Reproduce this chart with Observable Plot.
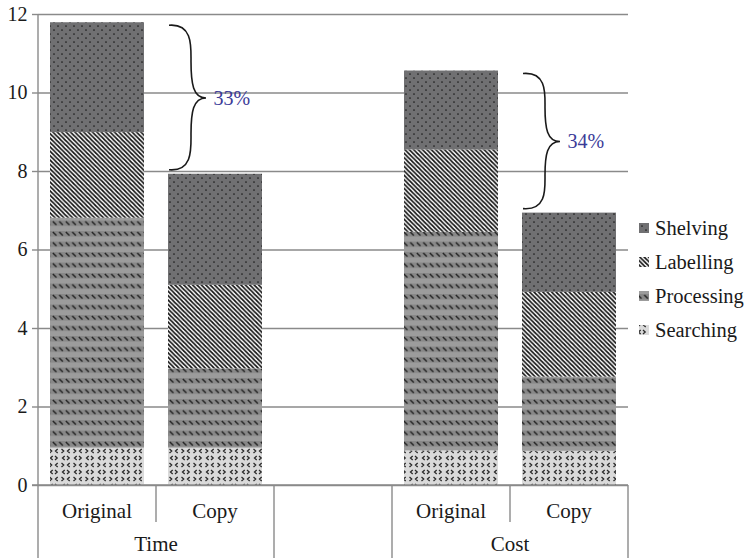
<!DOCTYPE html>
<html>
<head>
<meta charset="utf-8">
<script src="https://cdn.jsdelivr.net/npm/d3@7"></script>
<script src="https://cdn.jsdelivr.net/npm/@observablehq/plot@0.6"></script>
<style>
  body { margin: 0; background: #fff; }
  #chart svg { display: block; }
</style>
</head>
<body>
<div id="chart"></div>
<script>
// ---- data ----
const slots = ["Time|Original", "Time|Copy", "gap", "Cost|Original", "Cost|Copy"];
const slotLabels = ["Original", "Copy", "", "Original", "Copy"];
const groupNames = ["Time", "Cost"];
const bars = ["Time|Original", "Time|Copy", "Cost|Original", "Cost|Copy"];
const seriesNames = ["Searching", "Processing", "Labelling", "Shelving"];
const searching  = [0.95, 0.95, 0.88, 0.87];
const processing = [5.86, 2.02, 5.57, 1.89];
const labelling  = [2.18, 2.13, 2.10, 2.16];
const shelving   = [2.80, 2.83, 2.01, 2.02];
const yTicks = [0, 2, 4, 6, 8, 10, 12];

const seriesValues = [searching, processing, labelling, shelving];
const data = bars.flatMap((b, i) => seriesNames.map((s, j) => ({bar: b, series: s, value: seriesValues[j][i]})));
const totals = bars.map((b, i) => d3.sum(seriesValues, v => v[i]));
const braces = groupNames.map((g, k) => {
  const orig = totals[2 * k], copy = totals[2 * k + 1];
  return {at: g + "|Copy", orig, copy, mid: (orig + copy) / 2, pct: Math.round((orig - copy) / orig * 100) + "%"};
});

const lineColor = "#8a8a8a";
const fontFamily = "'Liberation Serif', 'Times New Roman', serif";

// ---- patterns ----
const defsMark = () => {
  const g = d3.create("svg:g");
  const defs = g.append("defs");
  // Shelving: dark grey with dots
  let p = defs.append("pattern").attr("id", "pat-Shelving").attr("patternUnits", "userSpaceOnUse").attr("width", 8).attr("height", 8);
  p.append("rect").attr("width", 8).attr("height", 8).attr("fill", "#707072");
  p.append("circle").attr("cx", 2).attr("cy", 2).attr("r", 0.85).attr("fill", "#1c1c1c");
  p.append("circle").attr("cx", 6).attr("cy", 6).attr("r", 0.85).attr("fill", "#1c1c1c");
  // Labelling: black/white diagonal stripes
  p = defs.append("pattern").attr("id", "pat-Labelling").attr("patternUnits", "userSpaceOnUse").attr("width", 4.4).attr("height", 4.4);
  p.append("rect").attr("width", 4.4).attr("height", 4.4).attr("fill", "#fff");
  p.append("path").attr("d", "M-1,-1 L5.4,5.4 M-1,3.4 L1,5.4 M3.4,-1 L5.4,1")
    .attr("stroke", "#111").attr("stroke-width", 1.7);
  // Processing: grey bands with short dashes
  p = defs.append("pattern").attr("id", "pat-Processing").attr("patternUnits", "userSpaceOnUse").attr("width", 6.5).attr("height", 10.5);
  p.append("rect").attr("width", 6.5).attr("height", 10.5).attr("fill", "#9c9c9c");
  p.append("rect").attr("width", 6.5).attr("height", 5.5).attr("fill", "#888");
  p.append("path").attr("d", "M0.8,0.9 L4.4,4.5").attr("stroke", "#1e1e1e").attr("stroke-width", 1.4);
  // Searching: light grey with chevrons
  p = defs.append("pattern").attr("id", "pat-Searching").attr("patternUnits", "userSpaceOnUse").attr("width", 12).attr("height", 14);
  p.append("rect").attr("width", 12).attr("height", 14).attr("fill", "#dadada");
  p.append("path").attr("d", "M1.5,1 L3.7,3 L1.5,5 M9.7,1 L7.5,3 L9.7,5 M4.7,8 L2.5,10 L4.7,12 M7,8 L9.2,10 L7,12")
    .attr("fill", "none").attr("stroke", "#2a2a2a").attr("stroke-width", 1.3);
  return g.node();
};

// ---- frame: left axis line, baseline, category table ----
const frameMark = (index, scales, values, dims) => {
  const {width, height, marginLeft, marginRight} = dims;
  const x = scales.x, y = scales.y;
  const step = typeof x.step === "function" ? x.step() : (width - marginLeft - marginRight) / slots.length;
  const bw = typeof x.bandwidth === "function" ? x.bandwidth() : step * 0.8;
  const off = (step - bw) / 2;
  const y0 = y(0);
  const g = d3.create("svg:g").attr("stroke", lineColor).attr("stroke-width", 1.4);
  g.append("line").attr("x1", marginLeft - 6).attr("x2", width - marginRight).attr("y1", y0).attr("y2", y0);
  g.append("line").attr("x1", marginLeft).attr("x2", marginLeft).attr("y1", y(12)).attr("y2", height);
  const grp = s => s.split("|")[0];
  slots.forEach((s, i) => {
    const xb = x(s) - off + step;
    const next = slots[i + 1];
    const long = !next || grp(next) !== grp(s);
    g.append("line").attr("x1", xb).attr("x2", xb).attr("y1", y0).attr("y2", long ? height : y0 + 37);
  });
  const t = g.append("g").attr("stroke", "none").attr("fill", "#1a1a1a").attr("font-family", fontFamily).attr("font-size", 21).attr("text-anchor", "middle");
  slots.forEach((s, i) => {
    if (!slotLabels[i]) return;
    t.append("text").attr("x", x(s) + bw / 2).attr("y", y0 + 26).attr("dy", "0.35em").text(slotLabels[i]);
  });
  groupNames.forEach(gn => {
    const xs = slots.filter(s => grp(s) === gn).map(s => x(s) - off);
    const cx = (d3.min(xs) + d3.max(xs) + step) / 2;
    t.append("text").attr("x", cx).attr("y", y0 + 59).attr("dy", "0.35em").text(gn);
  });
  return g.node();
};

// ---- braces ----
const braceMark = (index, scales) => {
  const x = scales.x, y = scales.y;
  const bw = typeof x.bandwidth === "function" ? x.bandwidth() : 94;
  const g = d3.create("svg:g").attr("fill", "none").attr("stroke", "#1a1a1a").attr("stroke-width", 1.6);
  braces.forEach(b => {
    const c = x(b.at) + bw / 2;
    const x0 = c - 46, xc = c - 24, xt = c - 9;
    const y1 = y(b.orig) + 3, y2 = y(b.copy) - 4, ym = y(b.mid);
    const h1 = ym - y1, h2 = y2 - ym;
    const d = `M${x0},${y1} C${xc + 2},${y1 - 2} ${xc},${y1 + h1 * 0.3} ${xc},${y1 + h1 * 0.5}` +
              ` C${xc},${y1 + h1 * 0.8} ${xc + 2},${ym} ${xt},${ym}` +
              ` C${xc + 2},${ym} ${xc},${ym + h2 * 0.2} ${xc},${ym + h2 * 0.5}` +
              ` C${xc},${ym + h2 * 0.7} ${xc + 2},${y2 + 2} ${x0},${y2}`;
    g.append("path").attr("d", d);
  });
  return g.node();
};

// ---- legend in right margin ----
const legendMark = (index, scales, values, dims) => {
  const {width, marginRight} = dims;
  const lx = width - marginRight + 11;
  const g = d3.create("svg:g").attr("font-family", fontFamily).attr("font-size", 20.5).attr("fill", "#1a1a1a").attr("text-anchor", "start");
  seriesNames.slice().reverse().forEach((s, i) => {
    const cy = 228 + i * 34;
    g.append("rect").attr("x", lx).attr("y", cy - 5).attr("width", 10).attr("height", 10).attr("fill", `url(#pat-${s})`);
    g.append("text").attr("x", lx + 16).attr("y", cy).attr("dy", "0.35em").text(s);
  });
  return g.node();
};

const chart = Plot.plot({
  width: 750,
  height: 558,
  marginLeft: 38,
  marginRight: 122,
  marginTop: 14,
  marginBottom: 73,
  style: {fontFamily, fontSize: "20px", background: "#fff", color: "#1a1a1a"},
  x: {domain: slots, paddingInner: 0.2, paddingOuter: 0.1, axis: null},
  y: {domain: [0, 12], axis: null},
  color: {domain: seriesNames, range: seriesNames.map(s => `url(#pat-${s})`)},
  marks: [
    defsMark,
    Plot.ruleY(yTicks, {stroke: lineColor, strokeWidth: 1.4}),
    Plot.axisY(yTicks, {tickSize: 6, tickPadding: 5, stroke: lineColor, strokeWidth: 1.4, fontSize: 20, label: null, textStroke: "none"}),
    Plot.barY(data, Plot.stackY({x: "bar", y: "value", fill: "series"})),
    frameMark,
    braceMark,
    Plot.text(braces, {x: "at", y: "mid", text: "pct", textAnchor: "start", dx: -2, fill: "#3b3b98", fontSize: 20}),
    legendMark
  ]
});
document.getElementById("chart").appendChild(chart);
</script>
</body>
</html>
